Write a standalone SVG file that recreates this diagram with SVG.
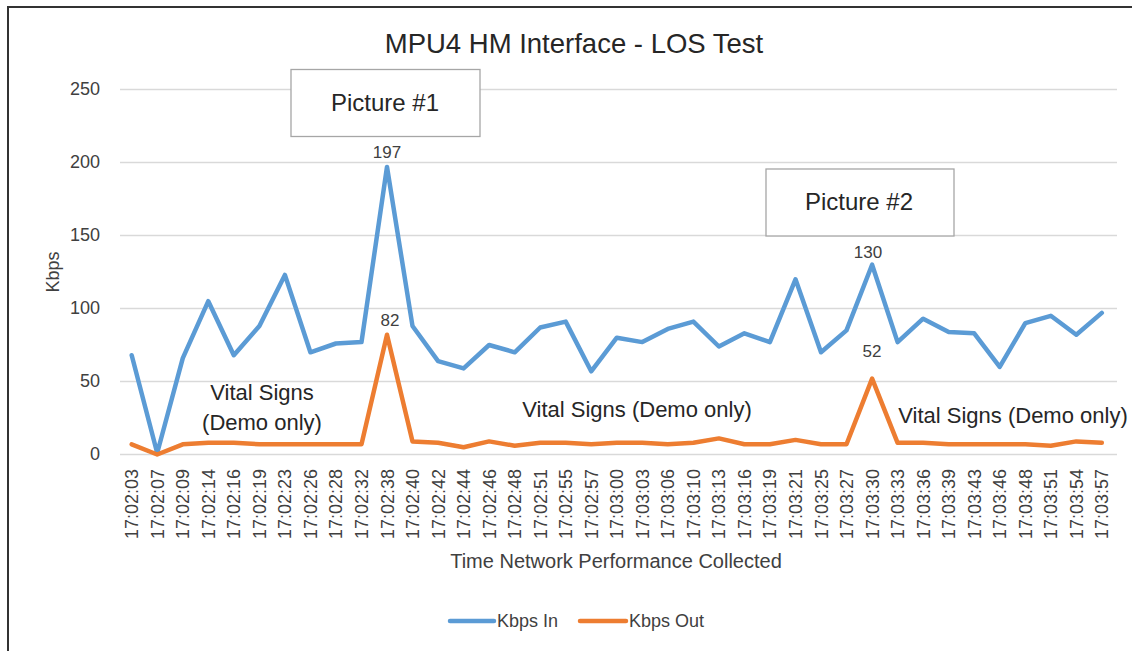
<svg xmlns="http://www.w3.org/2000/svg" width="1132" height="651" viewBox="0 0 1132 651">
<style>
text{font-family:"Liberation Sans",Arial,sans-serif;}
.grid{stroke:#D9D9D9;stroke-width:1.3;}
.ytick{font-size:18px;fill:#404040;text-anchor:end;}
.xtick{font-size:18px;fill:#404040;text-anchor:end;}
.note{font-size:22px;fill:#262626;text-anchor:middle;}
.dlab{font-size:17px;fill:#404040;text-anchor:middle;}
.box{fill:#FFFFFF;stroke:#A6A6A6;stroke-width:1.3;}
.sin{fill:none;stroke:#5B9BD5;stroke-width:4.5;stroke-linejoin:round;stroke-linecap:round;}
.sout{fill:none;stroke:#ED7D31;stroke-width:4.5;stroke-linejoin:round;stroke-linecap:round;}
</style>
<rect x="0" y="0" width="1132" height="651" fill="#FFFFFF"/>
<rect x="8" y="7" width="1140" height="660" fill="none" stroke="#333333" stroke-width="2"/>
<text x="574" y="53" font-size="27.5" fill="#262626" text-anchor="middle">MPU4 HM Interface - LOS Test</text>

<g id="gridlines">
<line class="grid" x1="120" y1="89.5" x2="1117" y2="89.5"/>
<line class="grid" x1="120" y1="162.5" x2="1117" y2="162.5"/>
<line class="grid" x1="120" y1="235.5" x2="1117" y2="235.5"/>
<line class="grid" x1="120" y1="308.5" x2="1117" y2="308.5"/>
<line class="grid" x1="120" y1="381.5" x2="1117" y2="381.5"/>
<line class="grid" x1="120" y1="454.5" x2="1117" y2="454.5"/>
</g>

<g id="y-axis">
<text class="ytick" x="100" y="95">250</text>
<text class="ytick" x="100" y="168">200</text>
<text class="ytick" x="100" y="241">150</text>
<text class="ytick" x="100" y="314">100</text>
<text class="ytick" x="100" y="387">50</text>
<text class="ytick" x="100" y="460">0</text>
<text x="59" y="272" font-size="18" fill="#404040" text-anchor="middle" transform="rotate(-90 59 272)">Kbps</text>
</g>

<g id="x-axis">
<text class="xtick" transform="translate(138.2,469) rotate(-90)">17:02:03</text>
<text class="xtick" transform="translate(163.7,469) rotate(-90)">17:02:07</text>
<text class="xtick" transform="translate(189.3,469) rotate(-90)">17:02:09</text>
<text class="xtick" transform="translate(214.8,469) rotate(-90)">17:02:14</text>
<text class="xtick" transform="translate(240.3,469) rotate(-90)">17:02:16</text>
<text class="xtick" transform="translate(265.9,469) rotate(-90)">17:02:19</text>
<text class="xtick" transform="translate(291.4,469) rotate(-90)">17:02:23</text>
<text class="xtick" transform="translate(316.9,469) rotate(-90)">17:02:26</text>
<text class="xtick" transform="translate(342.4,469) rotate(-90)">17:02:28</text>
<text class="xtick" transform="translate(368.0,469) rotate(-90)">17:02:32</text>
<text class="xtick" transform="translate(393.5,469) rotate(-90)">17:02:38</text>
<text class="xtick" transform="translate(419.0,469) rotate(-90)">17:02:40</text>
<text class="xtick" transform="translate(444.6,469) rotate(-90)">17:02:42</text>
<text class="xtick" transform="translate(470.1,469) rotate(-90)">17:02:44</text>
<text class="xtick" transform="translate(495.6,469) rotate(-90)">17:02:46</text>
<text class="xtick" transform="translate(521.2,469) rotate(-90)">17:02:48</text>
<text class="xtick" transform="translate(546.7,469) rotate(-90)">17:02:51</text>
<text class="xtick" transform="translate(572.2,469) rotate(-90)">17:02:55</text>
<text class="xtick" transform="translate(597.7,469) rotate(-90)">17:02:57</text>
<text class="xtick" transform="translate(623.3,469) rotate(-90)">17:03:00</text>
<text class="xtick" transform="translate(648.8,469) rotate(-90)">17:03:03</text>
<text class="xtick" transform="translate(674.3,469) rotate(-90)">17:03:06</text>
<text class="xtick" transform="translate(699.9,469) rotate(-90)">17:03:10</text>
<text class="xtick" transform="translate(725.4,469) rotate(-90)">17:03:13</text>
<text class="xtick" transform="translate(750.9,469) rotate(-90)">17:03:16</text>
<text class="xtick" transform="translate(776.4,469) rotate(-90)">17:03:19</text>
<text class="xtick" transform="translate(802.0,469) rotate(-90)">17:03:21</text>
<text class="xtick" transform="translate(827.5,469) rotate(-90)">17:03:25</text>
<text class="xtick" transform="translate(853.0,469) rotate(-90)">17:03:27</text>
<text class="xtick" transform="translate(878.6,469) rotate(-90)">17:03:30</text>
<text class="xtick" transform="translate(904.1,469) rotate(-90)">17:03:33</text>
<text class="xtick" transform="translate(929.6,469) rotate(-90)">17:03:36</text>
<text class="xtick" transform="translate(955.2,469) rotate(-90)">17:03:39</text>
<text class="xtick" transform="translate(980.7,469) rotate(-90)">17:03:43</text>
<text class="xtick" transform="translate(1006.2,469) rotate(-90)">17:03:46</text>
<text class="xtick" transform="translate(1031.8,469) rotate(-90)">17:03:48</text>
<text class="xtick" transform="translate(1057.3,469) rotate(-90)">17:03:51</text>
<text class="xtick" transform="translate(1082.8,469) rotate(-90)">17:03:54</text>
<text class="xtick" transform="translate(1108.3,469) rotate(-90)">17:03:57</text>
<text x="616" y="568" font-size="20" fill="#404040" text-anchor="middle">Time Network Performance Collected</text>
</g>

<g id="series">
<polyline id="kbps-in" class="sin" points="131.7,355.2 157.2,453.0 182.8,358.1 208.3,301.2 233.8,355.2 259.4,326.0 284.9,274.9 310.4,352.3 335.9,343.5 361.5,342.1 387.0,166.9 412.5,326.0 438.1,361.1 463.6,368.4 489.1,345.0 514.7,352.3 540.2,327.5 565.7,321.6 591.2,371.3 616.8,337.7 642.3,342.1 667.8,328.9 693.4,321.6 718.9,346.5 744.4,333.3 769.9,342.1 795.5,279.3 821.0,352.3 846.5,330.4 872.1,264.7 897.6,342.1 923.1,318.7 948.7,331.9 974.2,333.3 999.7,366.9 1025.3,323.1 1050.8,315.8 1076.3,334.8 1101.8,312.9"/>
<polyline id="kbps-out" class="sout" points="131.7,444.3 157.2,454.5 182.8,444.3 208.3,442.8 233.8,442.8 259.4,444.3 284.9,444.3 310.4,444.3 335.9,444.3 361.5,444.3 387.0,334.8 412.5,441.4 438.1,442.8 463.6,447.2 489.1,441.4 514.7,445.7 540.2,442.8 565.7,442.8 591.2,444.3 616.8,442.8 642.3,442.8 667.8,444.3 693.4,442.8 718.9,438.4 744.4,444.3 769.9,444.3 795.5,439.9 821.0,444.3 846.5,444.3 872.1,378.6 897.6,442.8 923.1,442.8 948.7,444.3 974.2,444.3 999.7,444.3 1025.3,444.3 1050.8,445.7 1076.3,441.4 1101.8,442.8"/>
</g>

<g id="data-labels">
<text class="dlab" x="387" y="158">197</text>
<text class="dlab" x="390" y="326">82</text>
<text class="dlab" x="868" y="258">130</text>
<text class="dlab" x="872" y="357">52</text>
</g>

<g id="picture1">
<rect class="box" x="291" y="69.5" width="189" height="67"/>
<text x="385" y="111" font-size="24" fill="#262626" text-anchor="middle">Picture #1</text>
</g>
<g id="picture2">
<rect class="box" x="766" y="169" width="188" height="67"/>
<text x="859" y="210" font-size="24" fill="#262626" text-anchor="middle">Picture #2</text>
</g>

<g id="notes">
<text class="note" x="262" y="400">Vital Signs</text>
<text class="note" x="262" y="430">(Demo only)</text>
<text class="note" x="637" y="417">Vital Signs (Demo only)</text>
<text class="note" x="1013" y="423">Vital Signs (Demo only)</text>
</g>

<g id="legend">
<line x1="450" y1="621" x2="494" y2="621" stroke="#5B9BD5" stroke-width="4.5" stroke-linecap="round"/>
<text x="497" y="627" font-size="18" fill="#404040">Kbps In</text>
<line x1="580" y1="621" x2="626" y2="621" stroke="#ED7D31" stroke-width="4.5" stroke-linecap="round"/>
<text x="629" y="627" font-size="18" fill="#404040">Kbps Out</text>
</g>
</svg>
